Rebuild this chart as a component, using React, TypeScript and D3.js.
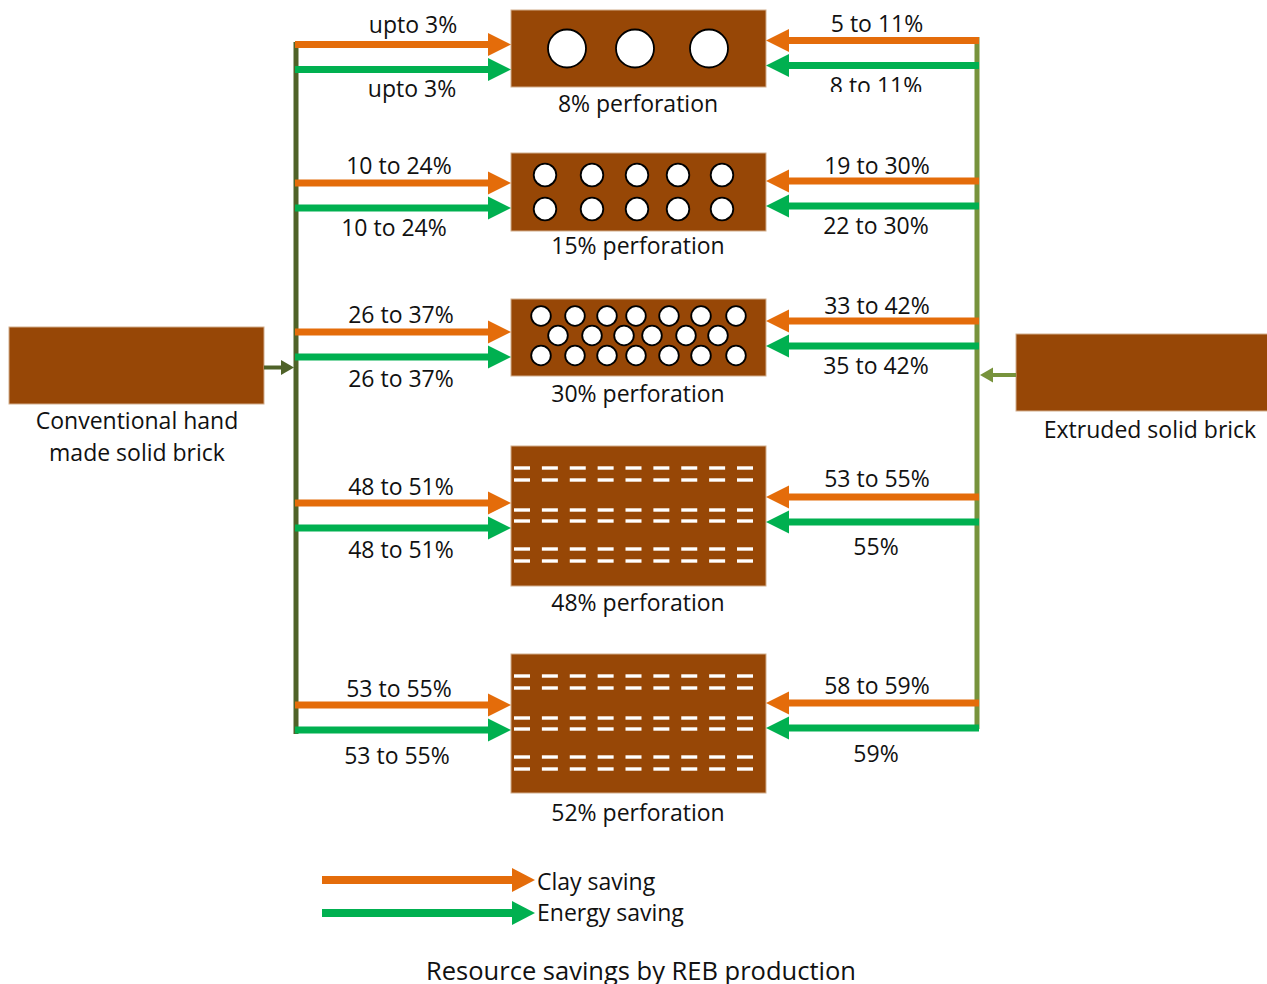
import React from 'react';
import * as d3 from 'd3';

// ---- data ----
const perforationLabels = ['8% perforation', '15% perforation', '30% perforation', '48% perforation', '52% perforation'];
const handClaySaving = ['upto 3%', '10 to 24%', '26 to 37%', '48 to 51%', '53 to 55%'];
const handEnergySaving = ['upto 3%', '10 to 24%', '26 to 37%', '48 to 51%', '53 to 55%'];
const extrudedClaySaving = ['5 to 11%', '19 to 30%', '33 to 42%', '53 to 55%', '58 to 59%'];
const extrudedEnergySaving = ['8 to 11%', '22 to 30%', '35 to 42%', '55%', '59%'];
const sourceBricks = [['Conventional hand', 'made solid brick'], ['Extruded solid brick']];
const legendItems = ['Clay saving', 'Energy saving'];
const title = 'Resource savings by REB production';

// ---- layout ----
const W = 1267;
const H = 984;
const ORANGE = '#E46C0A';
const GREEN = '#00B050';
const BRICK = '#974706';
const BRICK_EDGE = '#d2ae8c';
const LEFT_LINE = '#4F6228';
const RIGHT_LINE = '#77933C';
const FONT = '"Open Sans", Lato, sans-serif';
const TEXT = '#111';

const brickX0 = 511;
const brickX1 = 766;
const leftBus = 296;
const rightBus = 977;

const rowIdx = d3.range(perforationLabels.length);
const brickTop = d3.scaleOrdinal<number, number>().domain(rowIdx).range([10, 153, 299, 446, 654]);
const brickHeight = d3.scaleOrdinal<number, number>().domain(rowIdx).range([77, 78, 77, 140, 139]);
const leftArrowY = d3.scaleOrdinal<number, number>().domain(rowIdx).range([44.5, 183, 332, 503, 705]);
const rightArrowY = d3.scaleOrdinal<number, number>().domain(rowIdx).range([40.5, 181, 321, 497, 703]);
const leftTopLabelY = d3.scaleOrdinal<number, number>().domain(rowIdx).range([25, 166, 315, 487, 689]);
const leftBotLabelY = d3.scaleOrdinal<number, number>().domain(rowIdx).range([89, 228, 379, 550, 756]);
const leftLabelX = d3.scaleOrdinal<number, number>().domain(rowIdx).range([413, 399, 401, 401, 399]);
const leftBotLabelX = d3.scaleOrdinal<number, number>().domain(rowIdx).range([412, 394, 401, 401, 397]);
const rightTopLabelY = d3.scaleOrdinal<number, number>().domain(rowIdx).range([24, 166, 306, 479, 686]);
const rightBotLabelY = d3.scaleOrdinal<number, number>().domain(rowIdx).range([86, 226, 366, 547, 754]);
const brickLabelY = d3.scaleOrdinal<number, number>().domain(rowIdx).range([104, 246, 394, 603, 813]);
const ARROW_GAP = 25;

// hole patterns, relative to brick left / top
const circleLayouts = [
  { rows: [[56, 124, 198]], ys: [38.5], r: 19 },
  { rows: [[34, 81, 126, 167, 211], [34, 81, 126, 167, 211]], ys: [22, 56], r: 11.3 },
  {
    rows: [
      [30, 64, 96, 125, 158, 190, 225],
      [47, 81, 113, 141, 175, 207],
      [30, 64, 96, 125, 158, 190, 225],
    ],
    ys: [17, 36.5, 56.5],
    r: 9.8,
  },
];
const slotCol = d3.scaleLinear().domain([0, 8]).range([3, 226]);
const slotRowYs = [22, 34, 64, 75, 103, 115];

function Arrow({ x1, x2, y, color, w = 7, head = 23, hh = 11.5 }: any) {
  const dir = Math.sign(x2 - x1);
  const base = x2 - dir * head;
  return (
    <g>
      <line x1={x1} y1={y} x2={base + dir * 0.5} y2={y} stroke={color} strokeWidth={w} />
      <path d={`M${base},${y - hh}L${x2},${y}L${base},${y + hh}Z`} fill={color} />
    </g>
  );
}

function Label({ x, y, text, size = 23, anchor = 'middle', clip }: any) {
  return (
    <text
      x={x}
      y={y}
      dy="0.36em"
      textAnchor={anchor}
      fontSize={size}
      fontFamily={FONT}
      fill={TEXT}
      clipPath={clip}
    >
      {text}
    </text>
  );
}

function Brick({ i }: { i: number }) {
  const top = brickTop(i);
  const h = brickHeight(i);
  const layout = circleLayouts[i];
  return (
    <g>
      <rect x={brickX0} y={top} width={brickX1 - brickX0} height={h} fill={BRICK} stroke={BRICK_EDGE} strokeWidth={1} />
      {layout
        ? layout.rows.map((row, ri) =>
            row.map((cx, ci) => (
              <circle
                key={`${ri}-${ci}`}
                cx={brickX0 + cx}
                cy={top + layout.ys[ri]}
                r={layout.r}
                fill="#fff"
                stroke="#000"
                strokeWidth={1.8}
              />
            ))
          )
        : slotRowYs.map((sy, ri) =>
            d3.range(9).map((c) => (
              <rect
                key={`${ri}-${c}`}
                x={brickX0 + slotCol(c)}
                y={top + sy - 1.7}
                width={16}
                height={3.4}
                fill="#fff"
              />
            ))
          )}
    </g>
  );
}

export default function App() {
  return (
    <svg width={W} height={H} style={{ position: 'absolute', left: 0, top: 0, background: '#fff' }}>
      <defs>
        <clipPath id="clipTopRight">
          <rect x={760} y={70} width={220} height={22} />
        </clipPath>
      </defs>

      {/* source bricks */}
      <rect x={9} y={327} width={255} height={77} fill={BRICK} stroke={BRICK_EDGE} />
      <rect x={1016} y={334} width={252} height={77} fill={BRICK} stroke={BRICK_EDGE} />
      {sourceBricks[0].map((t, k) => (
        <Label key={t} x={137} y={421 + k * 32} text={t} />
      ))}
      <Label x={1150} y={430} text={sourceBricks[1][0]} />

      {/* buses */}
      <line x1={leftBus} y1={42} x2={leftBus} y2={734} stroke={LEFT_LINE} strokeWidth={5} />
      <line x1={rightBus} y1={37} x2={rightBus} y2={729} stroke={RIGHT_LINE} strokeWidth={5} />
      <Arrow x1={264} x2={294} y={367.5} color={LEFT_LINE} w={4} head={13} hh={7.5} />
      <Arrow x1={1016} x2={980} y={375} color={RIGHT_LINE} w={4} head={13} hh={7.5} />

      {rowIdx.map((i) => (
        <g key={i}>
          <Brick i={i} />
          <Label x={638} y={brickLabelY(i)} text={perforationLabels[i]} />

          <Arrow x1={leftBus - 1} x2={brickX0} y={leftArrowY(i)} color={ORANGE} />
          <Arrow x1={leftBus - 1} x2={brickX0} y={leftArrowY(i) + ARROW_GAP} color={GREEN} />
          <Arrow x1={rightBus + 2} x2={brickX1} y={rightArrowY(i)} color={ORANGE} />
          <Arrow x1={rightBus + 2} x2={brickX1} y={rightArrowY(i) + ARROW_GAP} color={GREEN} />

          <Label x={leftLabelX(i)} y={leftTopLabelY(i)} text={handClaySaving[i]} />
          <Label x={leftBotLabelX(i)} y={leftBotLabelY(i)} text={handEnergySaving[i]} />
          <Label x={877} y={rightTopLabelY(i)} text={extrudedClaySaving[i]} />
          <Label
            x={876}
            y={rightBotLabelY(i)}
            text={extrudedEnergySaving[i]}
            clip={i === 0 ? 'url(#clipTopRight)' : undefined}
          />
        </g>
      ))}

      {/* legend */}
      {legendItems.map((t, k) => (
        <g key={t}>
          <Arrow x1={322} x2={535} y={880 + k * 33} color={k === 0 ? ORANGE : GREEN} w={8} head={23} hh={12} />
          <Label x={537} y={882 + k * 31} text={t} anchor="start" />
        </g>
      ))}

      <Label x={641} y={971} text={title} size={25.5} />
    </svg>
  );
}
